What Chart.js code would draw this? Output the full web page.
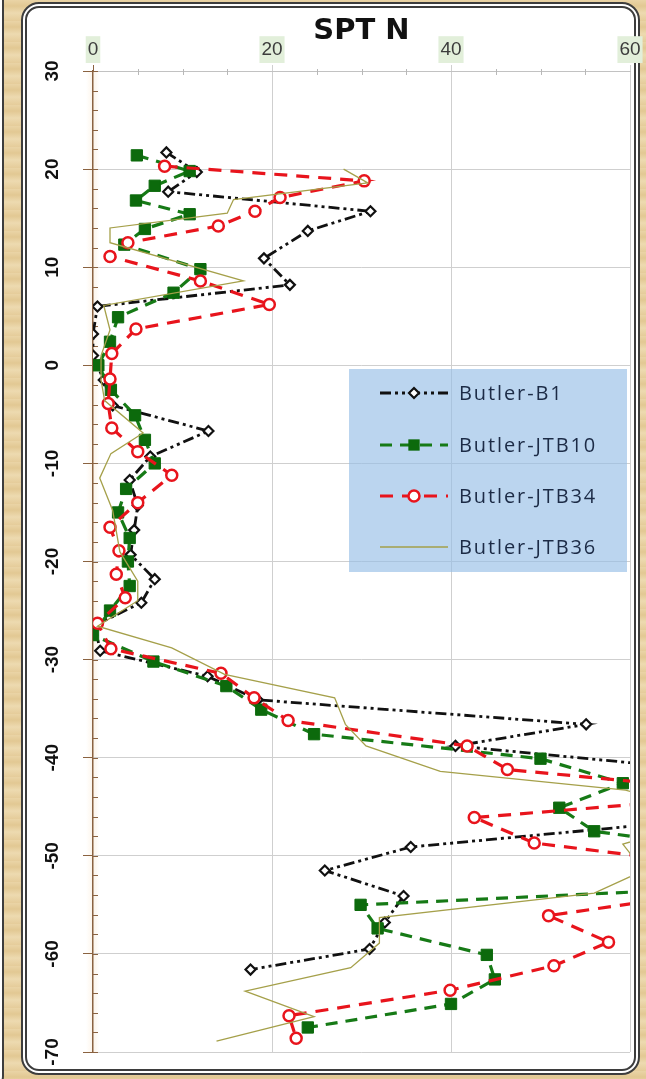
<!DOCTYPE html>
<html>
<head>
<meta charset="utf-8">
<title>SPT N profile</title>
<script src="https://cdn.jsdelivr.net/npm/chart.js@4.4.1/dist/chart.umd.min.js"></script>
<style>
  html, body { margin: 0; padding: 0; }
  body {
    width: 646px; height: 1079px; overflow: hidden; position: relative;
    background: repeating-linear-gradient(180deg, #ead4a6 0px, #e2c893 6px, #eddab0 13px, #e5cc9a 21px);
  }
  #neighbor {
    position: absolute; left: -46px; top: -20px; width: 38px; height: 1100px;
    border: 6px double #3d3d3d; border-radius: 16px; background: #fff;
  }
  #panel {
    position: absolute; left: 21px; top: 2px; width: 607px; height: 1061px;
    border: 6px double #3d3d3d; border-radius: 18px; background: #fff;
  }
  #chart { position: absolute; left: 0; top: 0; }
  #legend {
    position: absolute; left: 349px; top: 369px; width: 278px; height: 203px;
    background: rgba(150, 190, 230, 0.65);
  }
  .row {
    position: absolute; left: 0; height: 30px; width: 278px;
  }
  .row svg { position: absolute; left: 31px; top: 5px; }
  .row span {
    position: absolute; left: 110px; top: 0; line-height: 30px;
    font-family: "Open Sans", "Liberation Sans", sans-serif; font-size: 20px;
    letter-spacing: 1.9px; color: #1c2b46; white-space: nowrap;
  }
</style>
</head>
<body>
<div id="neighbor"></div>
<div id="panel"></div>
<canvas id="chart" width="646" height="1079"></canvas>
<div id="legend"></div>

<script>
// Axis ranges and tick spacing
const X_MIN = 0, X_MAX = 60, X_MAJOR = 20, X_MINOR = 5;
const Y_MIN = -70, Y_MAX = 30, Y_MAJOR = 10, Y_MINOR = 2;

// Series names
const seriesNames = ['Butler-B1', 'Butler-JTB10', 'Butler-JTB34', 'Butler-JTB36'];

// Butler-B1: elevation and SPT N
const b1Elev = [21.7, 19.7, 17.7, 15.7, 13.7, 10.9, 8.2, 6.0, 3.2, 1.0,
                -1.5, -4.1, -6.7, -9.3, -11.7, -14.3, -16.8, -19.3, -21.8, -24.2,
                -26.5, -29.1, -31.7, -34.1, -36.6, -38.8, -41.3, -43.8, -46.4, -49.1,
                -51.5, -54.1, -56.8, -59.5, -61.6];
const b1N = [8.2, 11.6, 8.4, 31.0, 24.0, 19.1, 22.0, 0.5, 0, 0,
             1.2, 2.2, 12.9, 6.4, 4.1, 5.0, 4.6, 4.2, 6.9, 5.4,
             0.2, 0.8, 12.8, 18.4, 55.1, 40.5, 69, 80, 67, 35.5,
             25.9, 34.7, 32.6, 30.9, 17.6];

// Butler-JTB10
const jtb10Elev = [21.4, 19.8, 18.3, 16.8, 15.4, 13.9, 12.3, 9.8, 7.4, 4.9,
                   2.4, 0, -2.5, -5.1, -7.6, -10.0, -12.6, -15.0, -17.6, -20.0,
                   -22.5, -25.0, -27.5, -30.2, -32.7, -35.1, -37.6, -40.1, -42.6, -45.1,
                   -47.5, -50.0, -52.5, -55.0, -57.4, -60.1, -62.6, -65.1, -67.5];
const jtb10N = [4.9, 10.8, 6.9, 4.8, 10.8, 5.8, 3.5, 12.0, 9.0, 2.8,
                1.9, 0.6, 2.0, 4.7, 5.8, 6.9, 3.7, 2.8, 4.1, 3.9,
                4.1, 1.9, 0, 6.75, 14.9, 18.8, 24.7, 50.0, 59.2, 52.1,
                56.0, 76, 88, 29.9, 31.8, 44.0, 44.9, 40.0, 24.0];

// Butler-JTB34
const jtb34Elev = [20.3, 18.8, 17.1, 15.7, 14.2, 12.5, 11.1, 8.6, 6.2, 3.7,
                   1.2, -1.4, -3.9, -6.4, -8.8, -11.2, -14.0, -16.5, -18.9, -21.3,
                   -23.7, -26.3, -28.9, -31.4, -33.9, -36.2, -38.8, -41.2, -43.7, -46.1,
                   -48.7, -51.2, -53.6, -56.1, -58.8, -61.2, -63.7, -66.3, -68.6];
const jtb34N = [8.0, 30.3, 20.9, 18.1, 14.0, 3.9, 1.9, 12.0, 19.7, 4.8,
                2.1, 1.9, 1.7, 2.1, 5.0, 8.8, 5.0, 1.9, 2.9, 2.6,
                3.6, 0.5, 2.0, 14.3, 18.0, 21.8, 41.8, 46.3, 75, 42.6,
                49.3, 71.6, 69.9, 50.9, 57.6, 51.5, 39.9, 21.9, 22.7];

// Butler-JTB36
const jtb36Elev = [20.0, 18.6, 16.9, 15.5, 14.0, 12.5, 8.6, 6.1, 3.6, 1.0,
                   -1.5, -3.6, -6.9, -9.0, -11.5, -14.8, -19.0, -22.0, -24.0, -26.6,
                   -28.8, -31.5, -33.9, -36.6, -38.8, -41.4, -43.3, -46.0, -48.8, -51.5,
                   -53.8, -56.3, -58.9, -61.4, -63.8, -66.4, -68.9];
const jtb36N = [28.0, 30.7, 15.7, 15.0, 1.9, 1.9, 16.8, 1.2, 1.9, 0.9,
                0.9, 1.3, 5.6, 2.0, 0.75, 2.2, 3.0, 5.0, 5.0, 0.5,
                8.8, 14.7, 27.0, 28.2, 30.5, 38.8, 59.5, 70, 59.2, 61.5,
                56.0, 32.0, 32.0, 28.8, 17.0, 24.7, 13.8];

const toPoints = (nVals, elevVals) => nVals.map((n, i) => ({ x: n, y: elevVals[i] }));

const AXIS_BROWN = '#8a6240';
const GRID_GRAY = '#cfcfcf';

// Minor ticks drawn inward from the axes, plus a soft glow along the elevation axis
const axisDecor = {
  id: 'axisDecor',
  beforeDraw(chart) {
    const { ctx, chartArea } = chart;
    ctx.save();
    const g = ctx.createLinearGradient(chartArea.left - 7, 0, chartArea.left + 7, 0);
    g.addColorStop(0, 'rgba(245,215,175,0)');
    g.addColorStop(0.5, 'rgba(245,215,175,0.28)');
    g.addColorStop(1, 'rgba(245,215,175,0)');
    ctx.fillStyle = g;
    ctx.fillRect(chartArea.left - 7, chartArea.top, 14, chartArea.bottom - chartArea.top);
    ctx.restore();
  },
  beforeDatasetsDraw(chart) {
    const { ctx, scales: { x, y } } = chart;
    ctx.save();
    ctx.lineWidth = 1;
    ctx.strokeStyle = AXIS_BROWN;
    for (let v = Y_MIN; v <= Y_MAX; v += Y_MINOR) {
      const py = Math.round(y.getPixelForValue(v)) + 0.5;
      ctx.beginPath(); ctx.moveTo(x.left, py); ctx.lineTo(x.left + 5, py); ctx.stroke();
    }
    ctx.strokeStyle = '#b8b8b8';
    for (let v = X_MIN + X_MINOR; v < X_MAX; v += X_MINOR) {
      if (v % X_MAJOR === 0) continue;
      const px = Math.round(x.getPixelForValue(v)) + 0.5;
      ctx.beginPath(); ctx.moveTo(px, y.top - 2); ctx.lineTo(px, y.top + 4); ctx.stroke();
    }
    ctx.restore();
  }
};

const datasets = [
  {
    label: seriesNames[0], data: toPoints(b1N, b1Elev), order: 4,
    borderColor: '#111111', borderWidth: 2.8, borderDash: [11, 4, 3, 4, 3, 4],
    pointStyle: 'rectRot', pointRadius: 5, pointBorderWidth: 2.2,
    pointBackgroundColor: '#ffffff', pointBorderColor: '#111111'
  },
  {
    label: seriesNames[1], data: toPoints(jtb10N, jtb10Elev), order: 3,
    borderColor: '#167a16', borderWidth: 3.2, borderDash: [12, 8],
    pointStyle: 'rect', pointRadius: 8, pointBorderWidth: 1,
    pointBackgroundColor: '#0c6a0c', pointBorderColor: '#0c6a0c'
  },
  {
    label: seriesNames[2], data: toPoints(jtb34N, jtb34Elev), order: 2,
    borderColor: '#e8141c', borderWidth: 3.2, borderDash: [13, 9],
    pointStyle: 'circle', pointRadius: 5.5, pointBorderWidth: 2.5,
    pointBackgroundColor: '#ffffff', pointBorderColor: '#e8141c'
  },
  {
    label: seriesNames[3], data: toPoints(jtb36N, jtb36Elev), order: 1,
    borderColor: '#a5a04a', borderWidth: 1.3, borderDash: [],
    pointRadius: 0, pointStyle: false
  }
];
datasets.forEach(d => { d.showLine = true; d.tension = 0; d.fill = false; });

const chart = new Chart(document.getElementById('chart'), {
  type: 'scatter',
  data: { datasets },
  plugins: [axisDecor],
  options: {
    responsive: false,
    devicePixelRatio: 1,
    animation: false,
    layout: { padding: { left: 0, top: 0, right: 16, bottom: 27 } },
    plugins: { legend: { display: false }, tooltip: { enabled: false } },
    scales: {
      x: {
        type: 'linear', position: 'top', min: X_MIN, max: X_MAX,
        afterFit(s) { s.height = 71; s.paddingLeft = 0; s.paddingRight = 0; },
        title: {
          display: true, text: 'SPT N', color: '#111111',
          font: { family: '"DejaVu Sans", sans-serif', size: 29, weight: 'bold' },
          padding: { top: 14, bottom: 0 }
        },
        ticks: {
          stepSize: X_MINOR, autoSkip: false, maxRotation: 0, padding: 4,
          color: '#3c3c3c', font: { family: '"Liberation Sans", sans-serif', size: 19 },
          callback: v => (v % X_MAJOR === 0 ? String(v) : ''),
          showLabelBackdrop: ctx => ctx.tick.value % X_MAJOR === 0,
          backdropColor: '#e2efda', backdropPadding: 2
        },
        grid: {
          tickLength: 6, lineWidth: 1,
          color: ctx => (ctx.tick && ctx.tick.value % X_MAJOR === 0 && ctx.tick.value !== 0 ? GRID_GRAY : 'rgba(0,0,0,0)'),
          tickColor: ctx => {
            if (!ctx.tick) return 'rgba(0,0,0,0)';
            if (ctx.tick.value === 0) return AXIS_BROWN;
            return ctx.tick.value % X_MAJOR === 0 ? GRID_GRAY : 'rgba(0,0,0,0)';
          }
        },
        border: { color: '#c2c2c2', width: 1 }
      },
      y: {
        type: 'linear', position: 'left', min: Y_MIN, max: Y_MAX,
        afterFit(s) { s.width = 93; s.paddingTop = 0; s.paddingBottom = 0; },
        ticks: {
          stepSize: Y_MINOR, autoSkip: false, minRotation: 90, maxRotation: 90,
          crossAlign: 'center', padding: 17, color: '#111111',
          font: { family: '"Liberation Sans Narrow", "Liberation Sans", sans-serif', size: 19, weight: 'bold' },
          callback: v => (v % Y_MAJOR === 0 ? String(v) : '')
        },
        grid: {
          tickLength: 10, lineWidth: 1,
          color: ctx => (ctx.tick && ctx.tick.value % Y_MAJOR === 0 ? GRID_GRAY : 'rgba(0,0,0,0)'),
          tickColor: ctx => (ctx.tick && ctx.tick.value % Y_MAJOR === 0 ? AXIS_BROWN : 'rgba(0,0,0,0)')
        },
        border: { color: AXIS_BROWN, width: 1.5 }
      }
    }
  }
});

// Legend built from the chart's own dataset styles
(function buildLegend() {
  const box = document.getElementById('legend');
  const rowCenters = [24, 76, 127, 178];
  chart.data.datasets.forEach((ds, i) => {
    const row = document.createElement('div');
    row.className = 'row';
    row.style.top = (rowCenters[i] - 15) + 'px';
    const w = 68, h = 20, cy = 10;
    let svg = `<svg width="${w}" height="${h}" xmlns="http://www.w3.org/2000/svg">`;
    const dash = (ds.borderDash || []).join(' ');
    svg += `<line x1="0" y1="${cy}" x2="${w}" y2="${cy}" stroke="${ds.borderColor}" stroke-width="${ds.borderWidth}"` +
           (dash ? ` stroke-dasharray="${dash}"` : '') + `/>`;
    const cx = w / 2, r = ds.pointRadius;
    if (ds.pointStyle === 'rect') {
      const s = r * Math.SQRT1_2;
      svg += `<rect x="${cx - s}" y="${cy - s}" width="${2 * s}" height="${2 * s}" fill="${ds.pointBackgroundColor}"/>`;
    } else if (ds.pointStyle === 'circle') {
      svg += `<circle cx="${cx}" cy="${cy}" r="${r}" fill="${ds.pointBackgroundColor}" stroke="${ds.pointBorderColor}" stroke-width="${ds.pointBorderWidth}"/>`;
    } else if (ds.pointStyle === 'rectRot') {
      svg += `<polygon points="${cx},${cy - r} ${cx + r},${cy} ${cx},${cy + r} ${cx - r},${cy}" fill="${ds.pointBackgroundColor}" stroke="${ds.pointBorderColor}" stroke-width="${ds.pointBorderWidth}"/>`;
    }
    svg += '</svg>';
    row.innerHTML = svg + `<span>${ds.label}</span>`;
    box.appendChild(row);
  });
})();
</script>
</body>
</html>
